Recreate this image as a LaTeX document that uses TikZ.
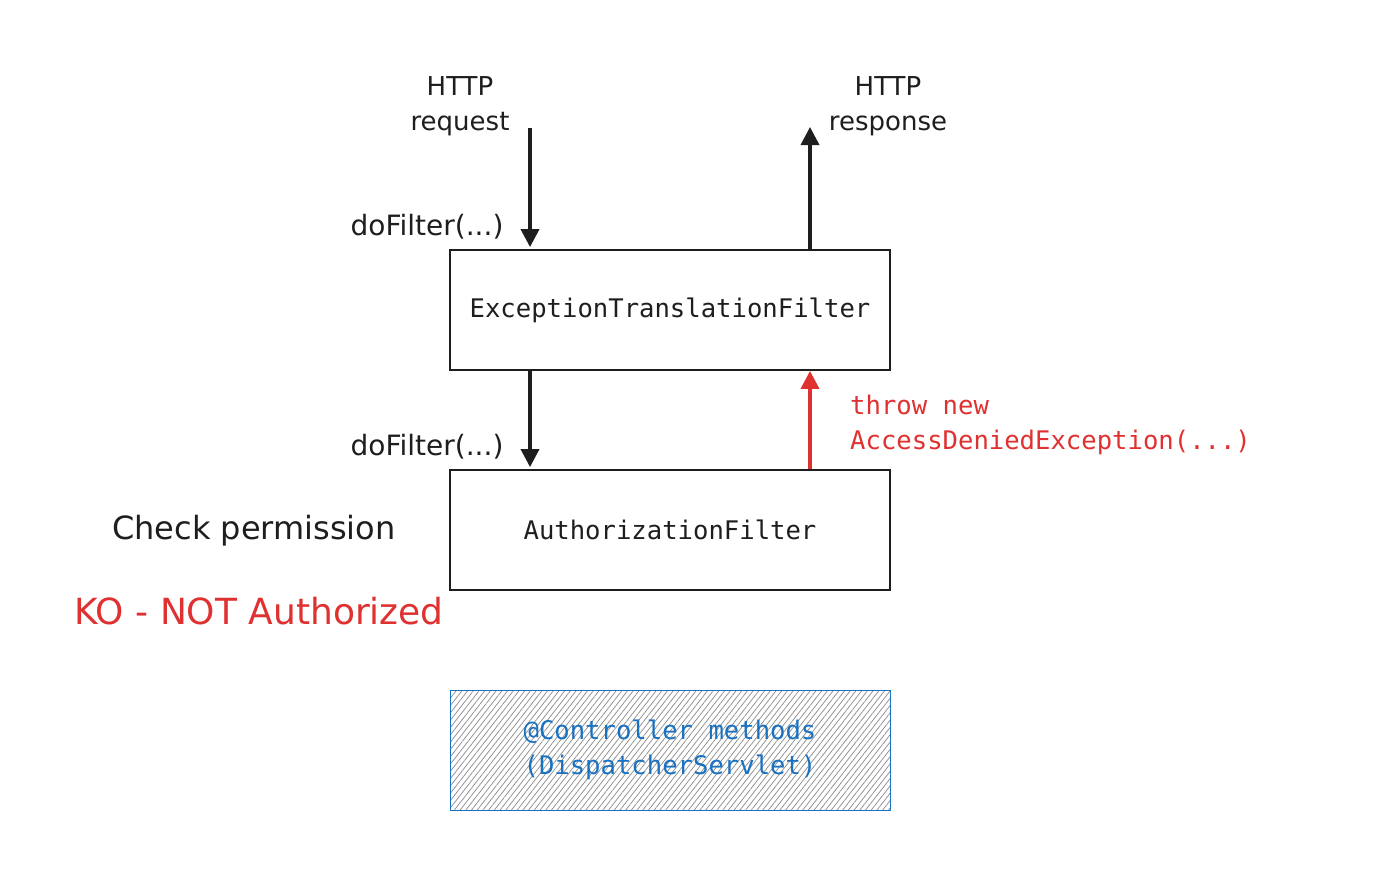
\documentclass[tikz,border=0pt]{standalone}
\usepackage{fontspec}
\setmainfont{DejaVu Sans}
\newfontfamily\codefont{DejaVu Sans Mono}
\usetikzlibrary{arrows.meta,patterns.meta}
\definecolor{ink}{HTML}{1E1E1E}
\definecolor{alert}{HTML}{E03131}
\definecolor{azure}{HTML}{1971C2}
\definecolor{hatch}{HTML}{8A8A8A}
\tikzset{
  filterbox/.style={draw=ink, line width=1.8pt, minimum width=440pt, minimum height=120pt,
    inner sep=0pt, text=ink, font=\codefont\fontsize{25.6}{35}\selectfont},
  hand/.style={text=ink, font=\fontsize{26}{35}\selectfont, align=center, inner sep=0pt},
  codelbl/.style={font=\codefont\fontsize{25.6}{35}\selectfont, inner sep=0pt},
  flow/.style={draw=ink, line width=3.5pt, -{Triangle[length=18pt,width=18pt]}},
  errflow/.style={draw=alert, line width=3.5pt, -{Triangle[length=18pt,width=18pt]}},
}
\begin{document}
\begin{tikzpicture}[x=1pt, y=-1pt]
  \useasboundingbox (0,0) rectangle (1380,880);
  \fill[white] (0,0) rectangle (1380,880);

  % filter chain
  \node[filterbox] (etf) at (670,310) {ExceptionTranslationFilter};
  \node[filterbox] (authz) at (670,530) {AuthorizationFilter};

  % servlet layer, hatched
  \path[pattern={Lines[angle=52, distance=4.5pt, line width=0.7pt]}, pattern color=hatch]
    (450,690) rectangle (890,810);
  \node[draw=azure, line width=1pt, minimum width=440pt, minimum height=120pt, inner sep=0pt,
        text=azure, align=center, font=\codefont\fontsize{25.6}{35}\selectfont]
    (ctrl) at (670,750) {@Controller methods\\(DispatcherServlet)};

  % labels
  \node[hand] (req) at (460,106) {HTTP\\request};
  \node[hand] (resp) at (888,106) {HTTP\\response};
  \node[hand, font=\fontsize{28}{35}\selectfont] (df1) at (427,227) {doFilter(...)};
  \node[hand, font=\fontsize{28}{35}\selectfont] (df2) at (427,447) {doFilter(...)};
  \node[hand, font=\fontsize{32}{40}\selectfont] (chk) at (254,531) {Check permission};
  \node[hand, text=alert, font=\fontsize{36}{44}\selectfont] (ko) at (259,611) {KO - NOT Authorized};
  \node[codelbl, text=alert, align=left, anchor=west] (thr) at (850,425)
    {throw new\\AccessDeniedException(...)};

  % connectors
  \coordinate (reqstart) at (530,128);
  \coordinate (respend) at (810,127);
  \draw[flow, shorten >=2pt] (reqstart) -- (reqstart |- etf.north);
  \draw[flow] (respend |- etf.north) -- (respend);
  \draw[flow, shorten >=2pt] (reqstart |- etf.south) -- (reqstart |- authz.north);
  \draw[errflow] (respend |- authz.north) -- (respend |- etf.south);
\end{tikzpicture}
\end{document}
